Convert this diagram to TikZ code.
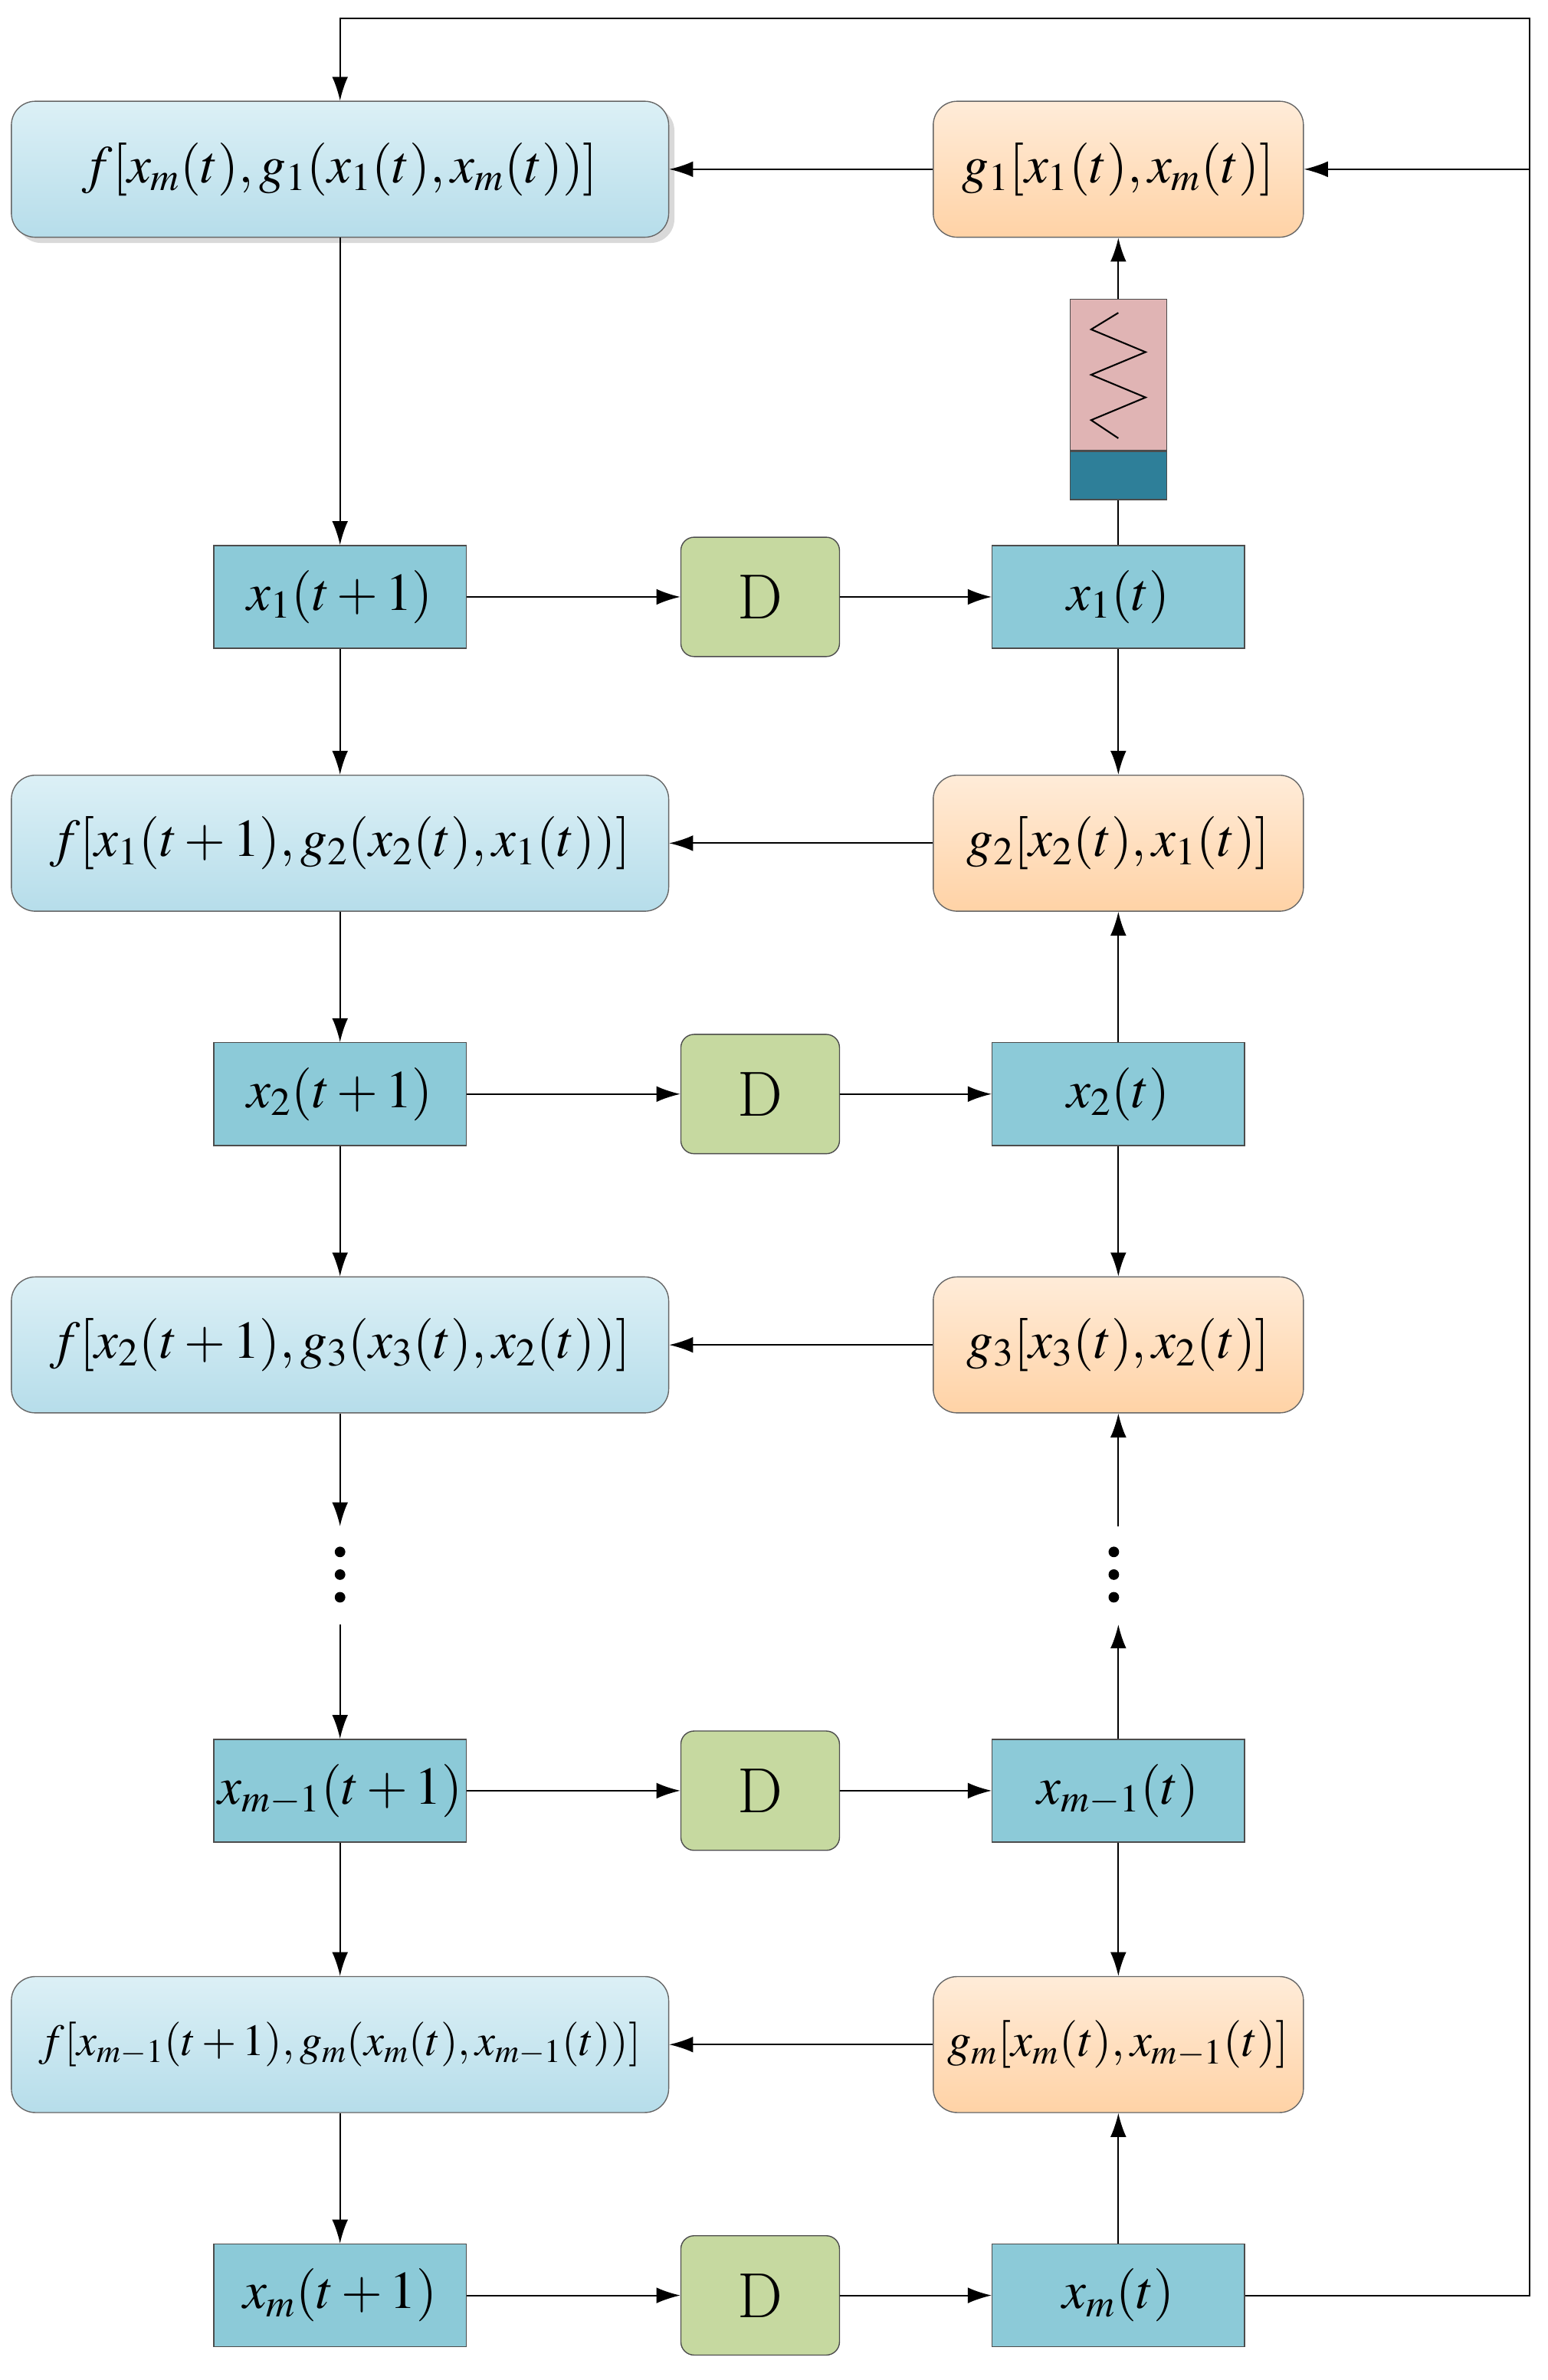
\documentclass[tikz,border=0pt]{standalone}
\usepackage{mathptmx}
\usetikzlibrary{arrows.meta,shadows}
\definecolor{xcol}{HTML}{8CCAD8}
\definecolor{dcol}{HTML}{C6D9A0}
\definecolor{spc}{HTML}{2E7F99}
\definecolor{spp}{HTML}{E0B4B4}
\definecolor{ft}{HTML}{DCF0F6}
\definecolor{fb}{HTML}{B6DDEA}
\begin{document}
\begin{tikzpicture}[x=0.02cm,y=-0.02cm,
  every node/.style={font=\fontsize{20}{24}\selectfont},
  fbox/.style={draw=black!60,rounded corners=9pt,top color=ft,bottom color=fb,minimum width=8.7cm,minimum height=1.8cm,inner sep=0pt},
  gbox/.style={draw=black!60,rounded corners=9pt,top color=orange!15,bottom color=orange!35,minimum width=4.9cm,minimum height=1.8cm,inner sep=0pt},
  xbox/.style={draw=black!70,fill=xcol,minimum width=3.34cm,minimum height=1.36cm,inner sep=0pt},
  dbox/.style={draw=black!70,fill=dcol,rounded corners=5pt,minimum width=2.1cm,minimum height=1.58cm,inner sep=0pt,font=\fontsize{24}{28}\selectfont},
  ar/.style={-{Latex[length=9pt,width=6pt]},line width=0.6pt},
  ln/.style={line width=0.6pt}]
\useasboundingbox (0,0) rectangle (1024,1575);
% left column
\node[fbox,drop shadow={opacity=0.3}] (f1) at (225,112) {$f[x_m(t),g_1(x_1(t),x_m(t))]$};
\node[fbox] (f2) at (225,558) {$f[x_1(t+1),g_2(x_2(t),x_1(t))]$};
\node[fbox] (f3) at (225,890) {$f[x_2(t+1),g_3(x_3(t),x_2(t))]$};
\node[fbox] (fm) at (225,1353) {\scalebox{0.84}{$f[x_{m-1}(t+1),g_m(x_m(t),x_{m-1}(t))]$}};
\node[xbox] (a1) at (225,395) {$x_1(t+1)$};
\node[xbox] (a2) at (225,724) {$x_2(t+1)$};
\node[xbox] (a3) at (225,1185) {$x_{m-1}(t+1)$};
\node[xbox] (a4) at (225,1519) {$x_m(t+1)$};
% D
\node[dbox] (d1) at (503,395) {\textbf{D}};
\node[dbox] (d2) at (503,724) {\textbf{D}};
\node[dbox] (d3) at (503,1185) {\textbf{D}};
\node[dbox] (d4) at (503,1519) {\textbf{D}};
% right column
\node[gbox] (g1) at (740,112) {$g_1[x_1(t),x_m(t)]$};
\node[gbox] (g2) at (740,558) {$g_2[x_2(t),x_1(t)]$};
\node[gbox] (g3) at (740,890) {$g_3[x_3(t),x_2(t)]$};
\node[gbox] (gm) at (740,1353) {\scalebox{0.9}{$g_m[x_m(t),x_{m-1}(t)]$}};
\node[xbox] (b1) at (740,395) {$x_1(t)$};
\node[xbox] (b2) at (740,724) {$x_2(t)$};
\node[xbox] (b3) at (740,1185) {$x_{m-1}(t)$};
\node[xbox] (b4) at (740,1519) {$x_m(t)$};
% spring
\node[draw=black!70,fill=spp,minimum width=1.28cm,minimum height=2cm,inner sep=0pt] (sp) at (740,248) {};
\node[draw=black!70,fill=spc,minimum width=1.28cm,minimum height=0.64cm,inner sep=0pt,anchor=north] (sb) at (sp.south) {};
\draw[ln] (740,207) -- (722,218) -- (758,233) -- (722,248) -- (758,263) -- (722,278) -- (740,290);
% dots
\foreach \y in {1027,1042,1057}{\fill (225,\y) circle (3.5); \fill (737,\y) circle (3.5);}
\coordinate (dlt) at (225,1010); \coordinate (dlb) at (225,1075);
\coordinate (drt) at (740,1010); \coordinate (drb) at (740,1075);
% feedback
\coordinate (c1) at (225,12); \coordinate (c2) at (1012,12);
\coordinate (c3) at (1012,1519); \coordinate (c4) at (1012,112);
\draw[ar] (b4.east) -- (c3) -- (c2) -- (c1) -- (f1.north);
\draw[ar] (c4) -- (g1.east);
% arrows
\draw[ar] (g1) -- (f1);
\draw[ar] (sp) -- (g1);
\draw[ln] (b1) -- (sb);
\draw[ar] (f1) -- (a1);
\foreach \i in {1,2,3,4}{\draw[ar] (a\i) -- (d\i); \draw[ar] (d\i) -- (b\i);}
\draw[ar] (a1) -- (f2);
\draw[ar] (b1) -- (g2);
\draw[ar] (g2) -- (f2);
\draw[ar] (b2) -- (g2);
\draw[ar] (f2) -- (a2);
\draw[ar] (a2) -- (f3);
\draw[ar] (b2) -- (g3);
\draw[ar] (g3) -- (f3);
\draw[ar] (f3) -- (dlt);
\draw[ar] (dlb) -- (a3);
\draw[ar] (b3) -- (drb);
\draw[ar] (drt) -- (g3);
\draw[ar] (a3) -- (fm);
\draw[ar] (b3) -- (gm);
\draw[ar] (gm) -- (fm);
\draw[ar] (fm) -- (a4);
\draw[ar] (b4) -- (gm);
\end{tikzpicture}
\end{document}
